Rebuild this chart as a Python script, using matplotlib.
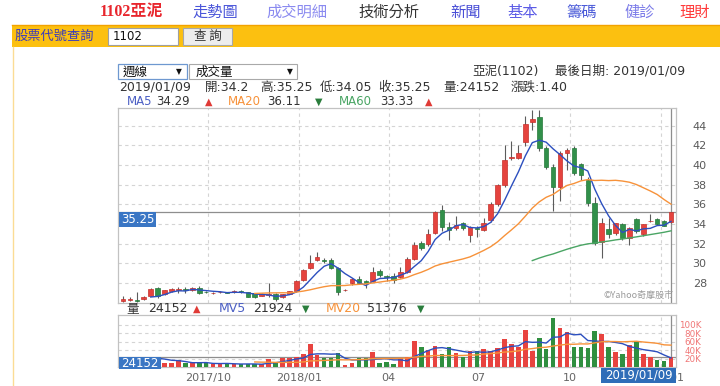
import matplotlib
matplotlib.use("Agg")
import matplotlib.pyplot as plt
import matplotlib.dates as mdates
from matplotlib.patches import Rectangle
import numpy as np
import pandas as pd

plt.rcParams['font.family'] = ['DejaVu Sans', 'Noto Sans CJK TC']
CJK = ['Noto Sans CJK TC', 'DejaVu Sans']

W, H = 720, 386

# weekly candles of 1102 亞泥, 2017/07 .. 2019/01/09
week_dates = pd.date_range('2017-07-07', periods=80, freq='7D')

opens = [26.14, 26.28, 26.20, 26.35, 26.70, 27.50, 26.90, 27.15, 27.30, 27.32,
         27.28, 27.45, 27.07, 26.95, 27.03, 27.05, 27.10, 27.20, 27.07, 26.97,
         26.72, 26.78, 26.90, 26.55, 26.90, 27.14, 28.28, 29.55, 30.30, 30.30,
         30.30, 29.55, 27.25, 27.96, 28.44, 28.20, 28.20, 29.22, 28.66, 28.70,
         28.64, 29.12, 30.48, 32.05, 31.95, 33.08, 35.47, 33.66, 33.56, 34.10,
         32.90, 33.60, 33.40, 34.40, 36.00, 37.97, 40.68, 40.75, 42.37, 44.35,
         44.90, 41.76, 39.83, 37.80, 41.20, 41.70, 40.07, 38.48, 36.10, 32.14,
         33.50, 33.05, 33.97, 32.60, 34.50, 32.95, 34.28, 34.50, 34.30, 34.20]
highs = [26.70, 26.60, 27.10, 26.70, 27.45, 27.60, 27.30, 27.50, 27.55, 27.55,
         27.55, 27.65, 27.20, 27.05, 27.20, 27.10, 27.30, 27.30, 27.10, 27.00,
         26.95, 28.00, 26.95, 26.90, 27.20, 28.30, 29.40, 30.80, 31.10, 30.55,
         30.50, 29.60, 27.40, 28.50, 28.70, 28.25, 29.67, 29.45, 28.85, 29.00,
         29.60, 30.60, 32.20, 32.30, 33.50, 35.37, 35.90, 34.17, 34.85, 34.20,
         33.80, 33.75, 34.60, 36.20, 38.10, 42.00, 42.40, 42.00, 45.00, 45.60,
         45.60, 41.90, 40.10, 41.40, 41.70, 41.90, 40.20, 38.80, 36.70, 34.60,
         34.60, 34.10, 34.10, 33.70, 34.60, 34.00, 35.00, 34.60, 34.40, 35.25]
lows = [26.10, 26.20, 26.10, 26.30, 26.65, 26.50, 26.80, 27.10, 27.00, 26.95,
        27.20, 26.90, 26.95, 26.90, 27.00, 26.95, 27.00, 26.95, 26.55, 26.50,
        26.70, 26.60, 26.20, 26.50, 26.85, 27.10, 28.20, 29.45, 30.20, 30.05,
        29.40, 26.80, 27.20, 27.80, 27.85, 27.50, 28.10, 28.60, 28.20, 28.00,
        28.50, 29.00, 30.35, 31.40, 31.80, 33.00, 33.30, 32.40, 33.40, 33.40,
        32.20, 32.70, 33.30, 34.20, 35.80, 37.80, 40.50, 40.60, 41.90, 43.60,
        41.40, 39.60, 35.30, 36.30, 39.50, 39.00, 38.50, 35.80, 31.90, 30.50,
        32.60, 32.90, 32.40, 31.90, 33.10, 32.80, 34.20, 33.90, 33.75, 34.05]
closes = [26.34, 26.30, 26.18, 26.62, 27.40, 26.65, 27.25, 27.40, 27.32, 27.30,
          27.45, 26.98, 27.05, 26.98, 27.07, 27.00, 27.14, 27.03, 26.62, 26.55,
          26.86, 26.82, 26.34, 26.86, 27.14, 28.24, 29.30, 30.07, 30.60, 30.28,
          29.55, 27.03, 27.30, 28.44, 27.96, 27.95, 29.12, 28.78, 28.64, 28.30,
          29.12, 30.48, 31.85, 31.60, 32.98, 35.20, 33.66, 33.40, 33.90, 33.56,
          33.70, 33.45, 34.07, 36.00, 37.97, 40.50, 40.85, 41.20, 44.14, 44.68,
          41.76, 39.83, 37.80, 41.20, 41.50, 39.16, 38.98, 36.10, 32.04, 34.07,
          32.95, 34.07, 32.55, 33.63, 33.30, 33.97, 34.32, 33.97, 33.83, 35.25]
# volume in thousand lots
volumes = [16.0, 20.0, 22.0, 21.0, 19.0, 22.0, 9.9, 8.3, 16.3, 8.3,
           8.3, 9.9, 9.9, 6.0, 6.7, 9.9, 6.0, 6.7, 6.7, 6.7,
           6.7, 17.9, 12.3, 20.2, 20.2, 24.2, 29.8, 53.6, 28.2, 20.2,
           20.2, 32.2, 3.6, 8.3, 20.2, 20.2, 36.1, 9.9, 12.3, 6.0,
           20.2, 24.2, 61.5, 48.0, 40.1, 50.4, 29.8, 48.0, 32.2, 24.2,
           37.7, 37.7, 42.5, 37.7, 45.7, 65.5, 53.6, 48.0, 87.7, 37.7,
           67.9, 42.5, 117.1, 91.7, 82.2, 48.0, 48.0, 44.1, 85.4, 77.4,
           48.0, 36.1, 29.8, 52.0, 58.4, 29.8, 24.2, 16.0, 14.0, 24.152]

price_ticks = [28, 30, 32, 34, 36, 38, 40, 42, 44]
vol_ticks = [20, 40, 60, 80, 100]
vol_tick_labels = ['20K', '40K', '60K', '80K', '100K']
date_ticks = ['2017-10-01', '2018-01-01', '2018-04-01', '2018-07-01', '2018-10-01', '2019-01-01']
date_tick_labels = ['2017/10', '2018/01', '04', '07', '10', '2019/01']

nav_items = ['走勢圖', '成交明細', '技術分析', '新聞', '基本', '籌碼', '健診', '理財']
nav_x = [192, 266, 358, 450, 507, 566, 624, 679]
nav_colors = ['#4a55d9', '#8a8af0', '#333333', '#4a4fd6', '#5b5be6', '#4a5ad8', '#7a7ae8', '#ff3b3b']

RED, RED_EDGE = '#e5433e', '#c4302b'
GREEN, GREEN_EDGE = '#31904a', '#26783b'
BLUE, ORANGE, MAGREEN = '#2c4fbf', '#f7923a', '#4aa564'
GRID = '#d4d4d4'


def box(x0, y0, x1, y1):
    return [x0 / W, 1 - y1 / H, (x1 - x0) / W, (y1 - y0) / H]


def ptext(x, y, s, **kw):
    kw.setdefault('va', 'center')
    return fig.text(x / W, 1 - y / H, s, **kw)


def prect(x0, y0, x1, y1, **kw):
    r = Rectangle((x0 / W, 1 - y1 / H), (x1 - x0) / W, (y1 - y0) / H,
                  transform=fig.transFigure, **kw)
    fig.add_artist(r)


fig = plt.figure(figsize=(7.2, 3.86), dpi=100)
fig.patch.set_facecolor('white')

# ---- top navigation and query bar
ptext(100, 12, '1102亞泥', color='#e8262d', fontsize=11.5, fontweight='bold',
      family=['Liberation Serif', 'Noto Sans CJK TC'])
for s, xx, cc in zip(nav_items, nav_x, nav_colors):
    ptext(xx, 12, s, color=cc, fontsize=11, family=CJK)

prect(12, 25, 720, 47, fc='#fcc010', ec='none')
fig.add_artist(plt.Line2D([12 / W, 1], [1 - 25 / H] * 2, transform=fig.transFigure,
                          color='#f2a200', lw=1))
fig.add_artist(plt.Line2D([12.5 / W] * 2, [0, 1 - 47 / H], transform=fig.transFigure,
                          color='#fbdc95', lw=1))
ptext(15, 36, '股票代號查詢', color='#3d3db8', fontsize=9.5, family=CJK)
prect(108, 28, 178, 45, fc='white', ec='#a0a0a0', lw=0.8)
ptext(113, 36.5, '1102', color='#111111', fontsize=8.5)
prect(183, 28, 232, 45, fc='#ededed', ec='#a8a8a8', lw=0.8)
ptext(207.5, 36.5, '查 詢', color='#333333', fontsize=9, ha='center', family=CJK)

# ---- chart header
prect(118, 64.5, 187, 79, fc='white', ec='#6e98d0', lw=0.9)
ptext(123, 72, '週線', fontsize=9, color='#111111', family=CJK)
ptext(176, 72, '▼', fontsize=5.5, color='#111111')
prect(189, 64.5, 297, 79, fc='white', ec='#a9a9a9', lw=0.8)
ptext(196, 72, '成交量', fontsize=9, color='#111111', family=CJK)
ptext(287, 72, '▼', fontsize=5.5, color='#111111')

ptext(472, 71, '亞泥(1102)', fontsize=9, color='#333333')
ptext(555, 71, '最後日期: 2019/01/09', fontsize=9, color='#333333')

info = [(119, '2019/01/09'), (205, '開:34.2'), (260, '高:35.25'), (320, '低:34.05'),
        (378, '收:35.25'), (443, '量:24152'), (511, '漲跌:1.40')]
for xx, s in info:
    ptext(xx, 87, s, fontsize=9, color='#333333')

ptext(127, 101.5, 'MA5', fontsize=8.5, color='#4b5fc4')
ptext(156, 101.5, '34.29', fontsize=8.5, color='#333333')
ptext(205, 101.5, '▲', fontsize=7, color='#e03a36')
ptext(228, 101.5, 'MA20', fontsize=8.5, color=ORANGE)
ptext(267, 101.5, '36.11', fontsize=8.5, color='#333333')
ptext(315, 101.5, '▼', fontsize=7, color='#2a7d3c')
ptext(339, 101.5, 'MA60', fontsize=8.5, color=MAGREEN)
ptext(380, 101.5, '33.33', fontsize=8.5, color='#333333')
ptext(425, 101.5, '▲', fontsize=7, color='#e03a36')

# ---- price panel
ax_p = fig.add_axes(box(118, 108, 676, 303))
ax_v = fig.add_axes(box(118, 315, 676, 367))

x = mdates.date2num(week_dates)
o = np.array(opens)
c = np.array(closes)
up = c >= o
body_col = np.where(up, RED, GREEN)
edge_col = np.where(up, RED_EDGE, GREEN_EDGE)

ax_p.vlines(x, lows, highs, color='#5c5c5c', lw=0.8, zorder=2)
ax_p.bar(x, np.maximum(np.abs(c - o), 0.06), bottom=np.minimum(o, c), width=4.6,
         color=body_col, edgecolor=edge_col, lw=0.5, zorder=3)

cs = pd.Series(closes)
ax_p.plot(x, cs.rolling(5).mean(), color=BLUE, lw=1.0, zorder=4)
ax_p.plot(x, cs.rolling(20).mean(), color=ORANGE, lw=1.0, zorder=4)
ax_p.plot(x, cs.rolling(60).mean(), color=MAGREEN, lw=1.0, zorder=4)

ax_p.axhline(closes[-1], color='#8e8e8e', lw=0.9, zorder=1)
ax_p.axvline(x[-1], color='#8e8e8e', lw=0.9, zorder=1)

xlim = mdates.date2num(pd.to_datetime(['2017-07-02', '2019-01-16']))
tick_x = mdates.date2num(pd.to_datetime(date_ticks))
for ax in (ax_p, ax_v):
    ax.set_xlim(*xlim)
    ax.set_xticks(tick_x)
    ax.set_axisbelow(True)
    ax.grid(True, ls=(0, (3, 3)), color=GRID, lw=0.8)
    for sp in ax.spines.values():
        sp.set_color('#c2c2c2')
        sp.set_linewidth(0.9)
    ax.yaxis.tick_right()
    ax.tick_params(length=0)

ax_p.set_ylim(25.96, 45.8)
ax_p.set_yticks(price_ticks)
ax_p.tick_params(axis='y', pad=12, labelsize=8, labelcolor='#5a5a5a')
ax_p.tick_params(axis='x', labelbottom=False)
ax_p.text(0.995, 0.015, '©Yahoo奇摩股市', transform=ax_p.transAxes, ha='right', va='bottom',
          fontsize=6.5, color='#9a9a9a', family=CJK)

# ---- volume panel
ptext(126, 309, '量', fontsize=9, color='#333333', family=CJK)
ptext(148, 309, '24152', fontsize=9, color='#333333')
ptext(193, 309, '▲', fontsize=7, color='#e03a36')
ptext(219, 309, 'MV5', fontsize=9, color='#4b5fc4')
ptext(253, 309, '21924', fontsize=9, color='#333333')
ptext(302, 309, '▼', fontsize=7, color='#2a7d3c')
ptext(326, 309, 'MV20', fontsize=9, color=ORANGE)
ptext(367, 309, '51376', fontsize=9, color='#333333')
ptext(417, 309, '▼', fontsize=7, color='#2a7d3c')

vs = pd.Series(volumes)
ax_v.bar(x, volumes, width=4.6, color=np.where(up, '#e8433f', '#2f8f3f'), lw=0, zorder=3)
ax_v.plot(x, vs.rolling(5).mean(), color=BLUE, lw=1.0, zorder=4)
ax_v.plot(x, vs.rolling(20).mean(), color=ORANGE, lw=1.0, zorder=4)
ax_v.axhline(volumes[-1], color='#8e8e8e', lw=0.9, zorder=2)
ax_v.axvline(x[-1], color='#8e8e8e', lw=0.9, zorder=2)

ax_v.set_ylim(0, 123.3)
ax_v.set_yticks(vol_ticks)
ax_v.set_yticklabels(vol_tick_labels)
ax_v.tick_params(axis='y', pad=18.5, labelsize=6.3, labelcolor='#f07676')
for lbl in ax_v.get_yticklabels():
    lbl.set_horizontalalignment('right')
ax_v.set_xticklabels(date_tick_labels)
ax_v.tick_params(axis='x', pad=4.5, labelsize=8, labelcolor='#666666')

# value flags on the left, positioned from the data
fig.canvas.draw()
to_px = lambda ax, yy: H - ax.transData.transform((xlim[0], yy))[1]
y_close = to_px(ax_p, closes[-1])
prect(119, y_close, 156, y_close + 15, fc='#3a76c4', ec='none', zorder=10)
ptext(137.5, y_close + 7.5, '35.25', ha='center', fontsize=8.5, color='white', zorder=11)
y_vol = to_px(ax_v, volumes[-1])
prect(119, y_vol, 161, y_vol + 12.5, fc='#3a76c4', ec='none', zorder=10)
ptext(140, y_vol + 6.3, '24152', ha='center', fontsize=8.5, color='white', zorder=11)

prect(601, 368, 676, 383, fc='#2f6db8', ec='none', zorder=10)
ptext(638.5, 375.5, '2019/01/09', ha='center', fontsize=8.5, color='white', zorder=11)

fig.savefig('out.png', dpi=100)
